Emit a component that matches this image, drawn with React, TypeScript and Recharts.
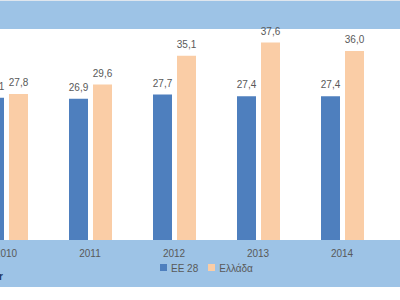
import { BarChart, Bar, XAxis, YAxis, Legend, LabelList } from "recharts";

const years = ["2010", "2011", "2012", "2013", "2014"];
const ee28 = [27.1, 26.9, 27.7, 27.4, 27.4];
const greece = [27.8, 29.6, 35.1, 37.6, 36.0];

const data = years.map((year, i) => ({ year, ee28: ee28[i], greece: greece[i] }));

const BAND = "#9DC3E6";
const BLUE = "#4E7FBE";
const PEACH = "#FACDA6";
const GREY = "#595959";
const FONT = "'Liberation Sans', Arial, sans-serif";

const fmt = (v: any) => Number(v).toFixed(1).replace(".", ",");

export default function App() {
  return (
    <div
      style={{
        position: "absolute",
        left: 0,
        top: 0,
        width: 400,
        height: 300,
        overflow: "hidden",
        background: "#fff",
        fontFamily: FONT,
      }}
    >
      <div style={{ position: "absolute", left: 0, top: 0, width: 400, height: 1, background: "#dfe6ee" }} />
      <div style={{ position: "absolute", left: 0, top: 1, width: 400, height: 28, background: BAND }} />
      <div style={{ position: "absolute", left: 0, top: 240, width: 400, height: 47, background: BAND }} />
      <div
        style={{
          position: "absolute",
          left: -1,
          top: 271,
          fontSize: 10,
          fontWeight: "bold",
          color: "#1F3864",
        }}
      >
        r
      </div>
      <div style={{ position: "absolute", left: -36, top: 0 }}>
        <BarChart
          width={420}
          height={300}
          data={data}
          margin={{ top: 30, right: 0, left: 0, bottom: 30 }}
          barSize={19}
          barGap={5}
        >
          <XAxis
            dataKey="year"
            height={30}
            axisLine={false}
            tickLine={false}
            tickMargin={4}
            tick={{ fill: GREY, fontSize: 10, fontFamily: FONT }}
          />
          <YAxis hide domain={[0, 40]} />
          <Bar dataKey="ee28" name="EE 28" fill={BLUE} isAnimationActive={false}>
            <LabelList
              dataKey="ee28"
              position="top"
              offset={8}
              formatter={fmt}
              style={{ fill: GREY, fontSize: 10, fontFamily: FONT }}
            />
          </Bar>
          <Bar dataKey="greece" name="Ελλάδα" fill={PEACH} isAnimationActive={false}>
            <LabelList
              dataKey="greece"
              position="top"
              offset={8}
              formatter={fmt}
              style={{ fill: GREY, fontSize: 10, fontFamily: FONT }}
            />
          </Bar>
          <Legend
            layout="horizontal"
            verticalAlign="middle"
            align="center"
            iconType="square"
            iconSize={7}
            formatter={(value: any) => (
              <span style={{ color: GREY, fontSize: 10, fontFamily: FONT }}>{value}</span>
            )}
            wrapperStyle={{ left: 196, top: 261, width: "auto", lineHeight: "12px" }}
          />
        </BarChart>
      </div>
    </div>
  );
}
